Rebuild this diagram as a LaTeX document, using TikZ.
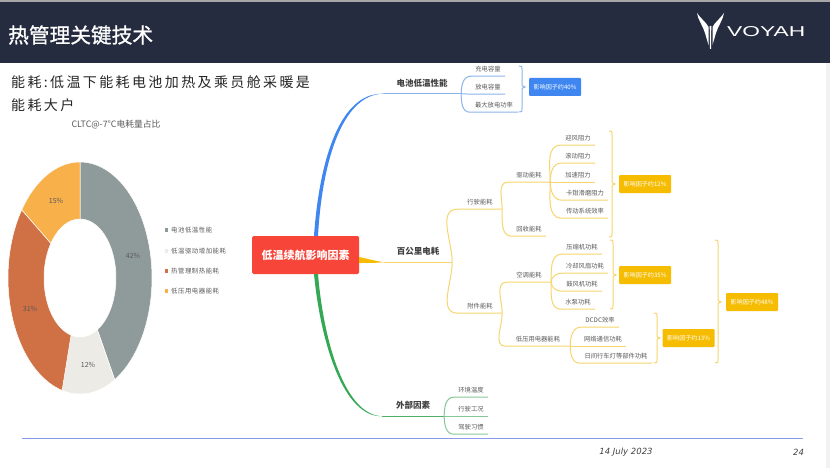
\documentclass[tikz,border=0pt]{standalone}
\usepackage{fontspec}
\usepackage{graphicx}
\setmainfont{Noto Sans CJK SC}
\newfontfamily\spacedfont[LetterSpace=17]{Noto Sans CJK SC}
\newfontfamily\legendfont[LetterSpace=8]{Noto Sans CJK SC}
\newfontfamily\titlefont[FakeBold=1]{Noto Sans CJK SC}
\newfontfamily\datefont{DejaVu Sans}
\newfontfamily\logofont{Liberation Sans}
\definecolor{headerblue}{HTML}{262C40}
\definecolor{rootred}{HTML}{F8453A}
\definecolor{mainblue}{HTML}{3F86F0}
\definecolor{mainyellow}{HTML}{F5BC00}
\definecolor{maingreen}{HTML}{34A853}
\definecolor{lineblue}{HTML}{8DB4EA}
\definecolor{lineyellow}{HTML}{F7D56E}
\definecolor{linegreen}{HTML}{86C795}
\definecolor{rulecolor}{HTML}{8A9BE8}
\definecolor{textgrey}{HTML}{5A5A5A}
\definecolor{slicegrey}{HTML}{8F9A9A}
\definecolor{slicepale}{HTML}{ECEBE6}
\definecolor{sliceorange}{HTML}{CF7045}
\definecolor{sliceamber}{HTML}{F8B04A}
\tikzset{
	leafnode/.style={inner sep=0pt,minimum height=14pt,text=textgrey,font=\fontsize{6.3}{7}\selectfont},
	mainnode/.style={inner sep=0pt,minimum height=21pt,text=black!75,font=\fontsize{8.5}{10}\selectfont\bfseries},
	factornode/.style={fill=#1,rounded corners=1pt,inner sep=0pt,minimum width=52pt,minimum height=18pt,text=white,font=\fontsize{6.1}{8}\selectfont},
	legendnode/.style={anchor=west,inner sep=0pt,text=textgrey,font=\fontsize{6.4}{8}\legendfont},
	percentnode/.style={inner sep=0pt,text=black!65,font=\fontsize{7}{8}\selectfont},
	footernode/.style={inner sep=0pt,text=black!75,font=\fontsize{8.5}{10}\datefont\itshape}
}
\newcommand{\donutslice}[3]{
	\fill[#1,draw=white,line width=.5pt] plot[domain=#2:#3,samples=50] ({80+72*sin(\x)},{278-116*cos(\x)})
	-- plot[domain=#3:#2,samples=50] ({80+36*sin(\x)},{278-59*cos(\x)}) -- cycle;
}
\newcommand{\factorbrace}[5]{
	\coordinate (tip) at (#2,0 |- #5.west);
	\draw[#1,line width=1pt] (#2-3,#3) .. controls (#2,#3) .. (#2,#3+4) -- ([yshift=3pt]tip)
	.. controls ([yshift=1pt]tip) .. ([xshift=3pt]tip) .. controls ([yshift=-1pt]tip) .. ([yshift=-3pt]tip)
	-- (#2,#4-4) .. controls (#2,#4) .. (#2-3,#4);
}
\begin{document}
\begin{tikzpicture}[x=1pt,y=-1pt]
	\useasboundingbox (0,0) rectangle (830,468);
	\fill[white] (0,0) rectangle (830,468);
	\fill[black!5] (826,0) rectangle (830,468);
	% donut
	\donutslice{slicegrey}{0}{151.2}
	\donutslice{slicepale}{151.2}{194.4}
	\donutslice{sliceorange}{194.4}{306}
	\donutslice{sliceamber}{306}{360}
	\node[percentnode] (p42) at (133,256) {42\%};
	\node[percentnode] (p12) at (88,365) {12\%};
	\node[percentnode] (p31) at (30,309) {31\%};
	\node[percentnode] (p15) at (56,201) {15\%};
	\node[inner sep=0pt,text=textgrey,font=\fontsize{8.8}{10}\selectfont] (charttitle) at (116,125) {CLTC@-7°C电耗量占比};
	\foreach \name/\ly/\col/\txt in {l1/230/slicegrey/电池低温性能,l2/251/slicepale/低温驱动增加能耗,l3/271/sliceorange/热管理制热能耗,l4/291/sliceamber/低压用电器能耗}{
		\fill[\col] (164.5,\ly-2) rectangle (168,\ly+2);
		\node[legendnode] (\name) at (171,\ly) {\txt};
	}
	% mind map nodes
	\node[mainnode,minimum width=78pt] (battery) at (422,83) {电池低温性能};
	\node[mainnode,minimum width=68pt] (power) at (418,251.5) {百公里电耗};
	\node[mainnode,minimum width=62pt] (outside) at (413,405.5) {外部因素};
	\foreach \name/\cx/\ly/\wid/\txt in {
		charge/488/76/34/充电容量,discharge/488/94/34/放电容量,maxpower/494/112/48/最大放电功率,
		driving/480/209/44/行驶能耗,accessory/480/313/44/附件能耗,
		propulsion/529/182/42/驱动能耗,recovery/529/236/34/回收能耗,
		headwind/578/145/34/迎风阻力,rolling/578/163/34/滚动阻力,accel/578/182/34/加速阻力,
		caliper/585/200/46/卡钳滑磨阻力,transmission/585/218/46/传动系统效率,
		aircon/529/282/44/空调能耗,lowvolt/538/346/64/低压用电器能耗,
		compressor/582/254/40/压缩机功耗,coolfan/585/273/46/冷却风扇功耗,blower/582/291/40/鼓风机功耗,pump/578/309/34/水泵功耗,
		dcdc/600/327/38/DCDC效率,network/603/346/46/网络通信功耗,daylight/616/363/72/日间行车灯等部件功耗,
		ambient/471/397/34/环境温度,roadcase/471/416/34/行驶工况,habit/471/434/34/驾驶习惯}{
		\node[leafnode,minimum width=\wid] (\name) at (\cx,\ly-7) {\txt};
	}
	\node[fill=rootred,rounded corners=1.5pt,inner sep=0pt,minimum width=107pt,minimum height=38pt,text=white,font=\fontsize{11}{13}\selectfont\bfseries] (root) at (305.5,255) {低温续航影响因素};
	\node[factornode=mainblue] (f40) at (555,87) {影响因子约40\%};
	\node[factornode=mainyellow] (f12) at (645,184) {影响因子约12\%};
	\node[factornode=mainyellow] (f35) at (645,275) {影响因子约35\%};
	\node[factornode=mainyellow] (f13) at (688.5,338) {影响因子约13\%};
	\node[factornode=mainyellow] (f48) at (752,302) {影响因子约48\%};
	% tapered main branches
	\fill[mainblue] ([xshift=8.5pt]root.north) .. controls (319,165) and (338,93) .. (battery.south west)
	.. controls (341,95) and (322,165) .. ([xshift=12.5pt]root.north) -- cycle;
	\fill[maingreen] ([xshift=8.5pt]root.south) .. controls (321,345) and (344,417) .. (outside.south west)
	.. controls (346,415) and (324,345) .. ([xshift=12.5pt]root.south) -- cycle;
	\fill[mainyellow] ([yshift=-2pt]root.east) .. controls (368,259) and (376,261) .. (power.south west)
	.. controls (376,263) and (368,263) .. ([yshift=-8pt]root.east) -- cycle;
	\draw[lineblue,line width=1pt] (battery.south west) -- (battery.south east);
	\draw[lineyellow,line width=1pt] (power.south west) -- (power.south east);
	\draw[maingreen!70!linegreen,line width=1pt] (outside.south west) -- (outside.south east);
	% branches
	\foreach \col/\from/\child/\bend in {
		lineblue/battery/charge/90,lineblue/battery/discharge/0,lineblue/battery/maxpower/-90,
		lineyellow/power/driving/90,lineyellow/power/accessory/-90,
		lineyellow/driving/propulsion/90,lineyellow/driving/recovery/-90,
		lineyellow/propulsion/headwind/90,lineyellow/propulsion/rolling/90,lineyellow/propulsion/accel/0,
		lineyellow/propulsion/caliper/-90,lineyellow/propulsion/transmission/-90,
		lineyellow/accessory/aircon/90,lineyellow/accessory/lowvolt/-90,
		lineyellow/aircon/compressor/90,lineyellow/aircon/coolfan/90,lineyellow/aircon/blower/-90,lineyellow/aircon/pump/-90,
		lineyellow/lowvolt/dcdc/90,lineyellow/lowvolt/network/0,lineyellow/lowvolt/daylight/-90,
		linegreen/outside/ambient/90,linegreen/outside/roadcase/0,linegreen/outside/habit/-90}{
		\draw[\col,line width=1pt] (\from.south east) to[out=\bend,in=180] (\child.south west) -- (\child.south east);
	}
	% braces
	\factorbrace{lineblue}{522}{66}{112}{f40}
	\factorbrace{lineyellow}{612}{131}{237}{f12}
	\factorbrace{lineyellow}{613}{240}{309}{f35}
	\factorbrace{lineyellow}{657}{313}{363}{f13}
	\factorbrace{lineyellow}{718}{240}{363}{f48}
	% header
	\fill[black!35] (0,0) rectangle (830,2);
	\fill[headerblue] (0,2) rectangle (830,63);
	\node[anchor=west,inner sep=0pt,text=white,font=\fontsize{20.7}{24}\titlefont] (title) at (8,35) {热管理关键技术};
	% logo
	\fill[white] (697,13) .. controls (698,20) and (703,26) .. (705,33) -- (708.5,45) -- (708.5,27) .. controls (706,22) and (701,19) .. cycle;
	\fill[white] (724,13) .. controls (723,20) and (718,26) .. (716,33) -- (712.5,45) -- (712.5,27) .. controls (715,22) and (720,19) .. cycle;
	\fill[white] (709.7,26) -- (711.3,26) -- (711,49) -- (710,49) -- cycle;
	\node[anchor=west,inner sep=0pt,text=white] (logotext) at (727,32) {\resizebox{78pt}{10pt}{\logofont VOYAH}};
	% text block
	\node[anchor=west,inner sep=0pt,text=black!85,font=\fontsize{14}{16}\spacedfont] (line1) at (11,82) {能耗:低温下能耗电池加热及乘员舱采暖是};
	\node[anchor=west,inner sep=0pt,text=black!85,font=\fontsize{14}{16}\spacedfont] (line2) at (11,105) {能耗大户};
	% footer
	\coordinate (ruleleft) at (22,438);
	\coordinate (ruleright) at (803,438);
	\draw[rulecolor,line width=1pt] (ruleleft) -- (ruleright);
	\node[footernode] (date) at (626,452) {14 July 2023};
	\node[footernode] (page) at (798.5,452) {24};
\end{tikzpicture}
\end{document}
